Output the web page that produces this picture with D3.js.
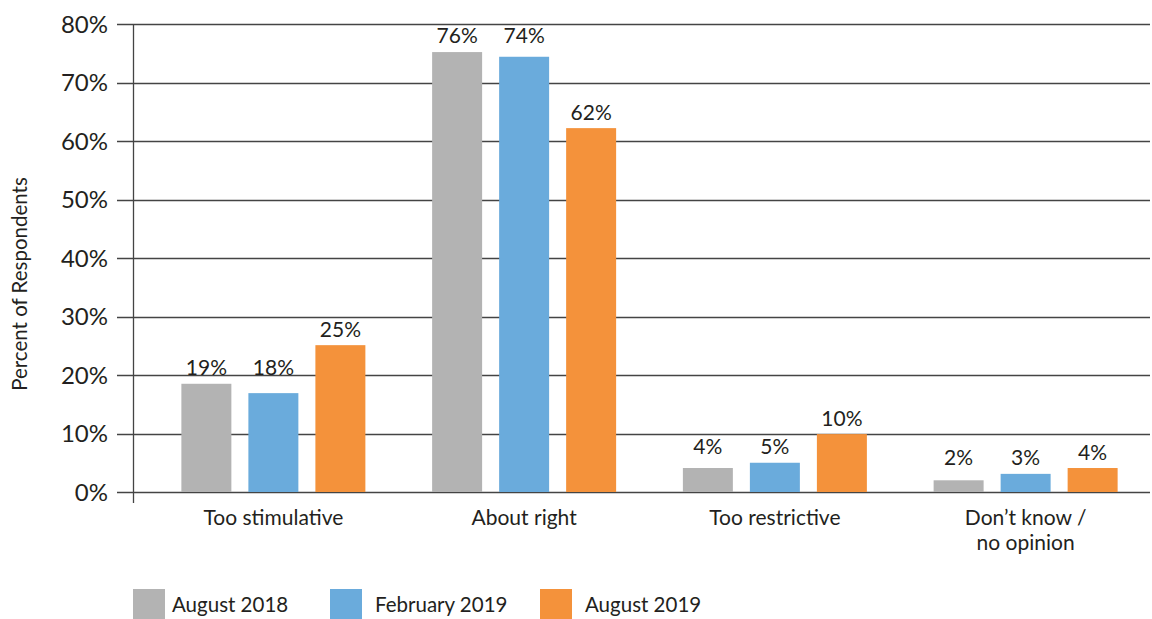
<!DOCTYPE html>
<html>
<head>
<meta charset="utf-8">
<script src="https://cdn.jsdelivr.net/npm/d3@7"></script>
<style>
    body { margin: 0; background: #fff; }
    svg { display: block; font-family: Lato, "Open Sans", sans-serif; }
</style>
</head>
<body>
<div id="chart"></div>
<script>
var categories = ['Too stimulative', 'About right', 'Too restrictive', 'Don\u2019t know /\nno opinion'];
var seriesNames = ['August 2018', 'February 2019', 'August 2019'];
var seriesColors = ['#b3b3b3', '#6aabdc', '#f4923b'];
// bar heights as drawn (percent)
var aug2018 = [18.5, 75.2, 4.1, 2.0];
var feb2019 = [16.9, 74.4, 5.0, 3.1];
var aug2019 = [25.1, 62.2, 9.9, 4.1];
// printed labels
var aug2018Labels = ['19%', '76%', '4%', '2%'];
var feb2019Labels = ['18%', '74%', '5%', '3%'];
var aug2019Labels = ['25%', '62%', '10%', '4%'];
var yTicks = [0, 10, 20, 30, 40, 50, 60, 70, 80];

var series = [aug2018, feb2019, aug2019];
var seriesLabels = [aug2018Labels, feb2019Labels, aug2019Labels];

var width = 1152, height = 619;
var axisX = 133, gridLeft = 117, gridRight = 1150;
var textColor = '#231f20';

var svg = d3.select('#chart').append('svg')
    .attr('width', width)
    .attr('height', height);

var y = d3.scaleLinear().domain([0, 80]).range([492, 24]);
var x0 = d3.scaleBand().domain(categories).range([148, 1151]).padding(0);
var x1 = d3.scaleBand().domain(d3.range(series.length))
    .range([x0.bandwidth() / 2 - 92, x0.bandwidth() / 2 + 92]).paddingInner(0.254);

// gridlines + ticks
svg.append('g').selectAll('line')
    .data(yTicks)
    .enter().append('line')
    .attr('x1', gridLeft).attr('x2', gridRight)
    .attr('y1', function (d) { return Math.round(y(d)) + 0.5; })
    .attr('y2', function (d) { return Math.round(y(d)) + 0.5; })
    .attr('stroke', '#444')
    .attr('stroke-width', 1.3);

svg.append('g').selectAll('text')
    .data(yTicks)
    .enter().append('text')
    .attr('x', 108)
    .attr('y', function (d) { return y(d); })
    .attr('dy', '0.36em')
    .attr('text-anchor', 'end')
    .attr('fill', textColor)
    .style('font-size', '24px')
    .text(function (d) { return d + '%'; });

svg.append('line')
    .attr('x1', axisX + 0.5).attr('x2', axisX + 0.5)
    .attr('y1', y(80)).attr('y2', 503)
    .attr('stroke', '#444')
    .attr('stroke-width', 1.3);

// bars
var groups = svg.append('g').selectAll('g')
    .data(categories)
    .enter().append('g')
    .attr('transform', function (d) { return 'translate(' + x0(d) + ',0)'; });

groups.selectAll('rect')
    .data(function (d, i) { return series.map(function (s, k) { return { k: k, v: s[i] }; }); })
    .enter().append('rect')
    .attr('x', function (d) { return x1(d.k); })
    .attr('width', x1.bandwidth())
    .attr('y', function (d) { return y(d.v); })
    .attr('height', function (d) { return y(0) - y(d.v); })
    .attr('fill', function (d) { return seriesColors[d.k]; });

// the first two labels of a group share one baseline
function labelY(d, i) {
    if (d.k < 2) return y(Math.max(aug2018[i], feb2019[i])) - 9;
    return y(d.v) - 8;
}

groups.selectAll('text.val')
    .data(function (d, i) { return series.map(function (s, k) { return { k: k, i: i, v: s[i], t: seriesLabels[k][i] }; }); })
    .enter().append('text')
    .attr('class', 'val')
    .attr('x', function (d) { return x1(d.k) + x1.bandwidth() / 2; })
    .attr('y', function (d) { return labelY(d, d.i); })
    .attr('text-anchor', 'middle')
    .attr('fill', textColor)
    .style('font-size', '21px')
    .text(function (d) { return d.t; });

// category labels
svg.append('g').selectAll('text')
    .data(categories)
    .enter().append('text')
    .attr('x', function (d) { return x0(d) + x0.bandwidth() / 2; })
    .attr('y', 525)
    .attr('text-anchor', 'middle')
    .attr('fill', textColor)
    .style('font-size', '21px')
    .each(function (d) {
        var lines = d.split('\n');
        var self = d3.select(this);
        lines.forEach(function (l, i) {
            self.append('tspan')
                .attr('x', x0(d) + x0.bandwidth() / 2)
                .attr('dy', i === 0 ? 0 : 25)
                .text(l);
        });
    });

// y title
svg.append('text')
    .attr('transform', 'translate(27,284) rotate(-90)')
    .attr('text-anchor', 'middle')
    .attr('fill', textColor)
    .style('font-size', '20.5px')
    .text('Percent of Respondents');

// legend
var legendX = [133, 330, 540];
var legend = svg.append('g').selectAll('g')
    .data(seriesNames)
    .enter().append('g')
    .attr('transform', function (d, i) { return 'translate(' + legendX[i] + ',589)'; });

legend.append('rect')
    .attr('width', 32)
    .attr('height', 30)
    .attr('fill', function (d, i) { return seriesColors[i]; });

legend.append('text')
    .attr('x', function (d, i) { return i === 0 ? 39 : 45; })
    .attr('y', 23)
    .attr('fill', textColor)
    .style('font-size', '20.5px')
    .text(function (d) { return d; });
</script>
</body>
</html>
